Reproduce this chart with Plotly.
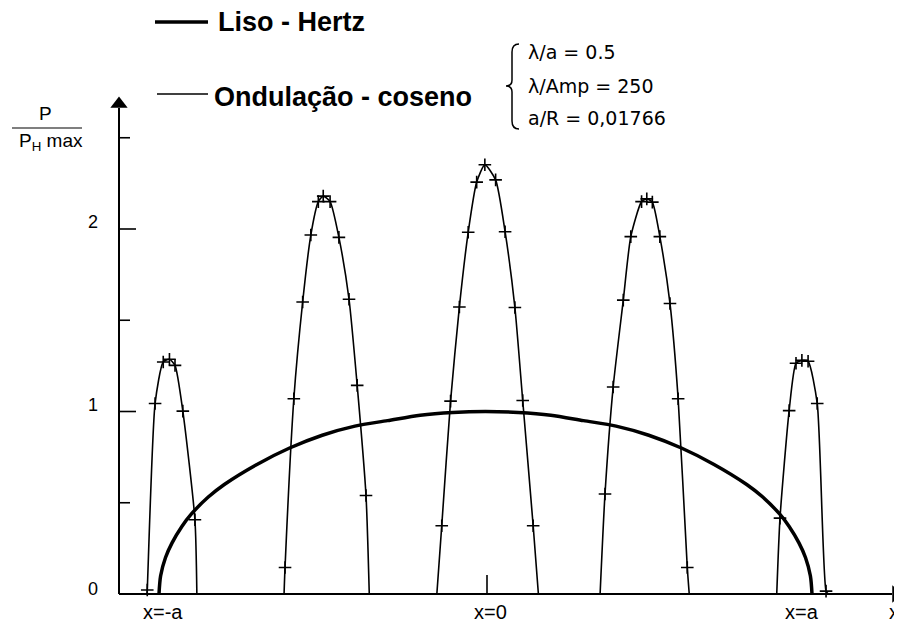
import plotly.graph_objects as go

# ---------------- data (x in units of a, y = P / P_H max) ----------------
hertz_x = [-1.0, -0.995, -0.98, -0.96, -0.93, -0.9, -0.85, -0.8, -0.7, -0.6, -0.5, -0.4, -0.3, -0.2, -0.1, 0.0,
           0.1, 0.2, 0.3, 0.4, 0.5, 0.6, 0.7, 0.8, 0.85, 0.9, 0.93, 0.96, 0.98, 0.995, 1.0]
hertz_y = [0.0, 0.10, 0.20, 0.28, 0.37, 0.44, 0.53, 0.60, 0.71, 0.80, 0.87, 0.92, 0.95, 0.98, 0.995, 1.0,
           0.995, 0.98, 0.95, 0.92, 0.87, 0.80, 0.71, 0.60, 0.53, 0.44, 0.37, 0.28, 0.20, 0.10, 0.0]

arch1_x = [-1.037, -1.036, -1.012, -0.987, -0.968, -0.951, -0.927, -0.890, -0.884]
arch1_y = [0.0, 0.022, 1.044, 1.271, 1.286, 1.253, 1.002, 0.407, 0.0]

arch2_x = [-0.617, -0.614, -0.587, -0.560, -0.535, -0.512, -0.497, -0.476, -0.449, -0.418, -0.393, -0.366, -0.356]
arch2_y = [0.0, 0.145, 1.070, 1.600, 1.967, 2.150, 2.180, 2.150, 1.954, 1.615, 1.143, 0.540, 0.0]

arch3_x = [-0.149, -0.134, -0.107, -0.080, -0.053, -0.027, -0.002, 0.031, 0.060, 0.090, 0.114, 0.146, 0.162]
arch3_y = [0.0, 0.374, 1.057, 1.573, 1.982, 2.257, 2.352, 2.269, 1.985, 1.570, 1.060, 0.374, 0.0]

arch4_x = [0.351, 0.366, 0.391, 0.422, 0.445, 0.478, 0.494, 0.511, 0.534, 0.565, 0.590, 0.618, 0.624]
arch4_y = [0.0, 0.548, 1.134, 1.610, 1.958, 2.150, 2.165, 2.147, 1.958, 1.592, 1.070, 0.145, 0.0]

arch5_x = [0.892, 0.902, 0.930, 0.951, 0.969, 0.988, 1.016, 1.043, 1.050]
arch5_y = [0.0, 0.416, 1.005, 1.264, 1.280, 1.275, 1.044, 0.016, 0.0]

y_tick_vals = [0.5, 1.0, 1.5, 2.0, 2.5]
y_tick_labels = {0: "0", 1: "1", 2: "2"}
x_tick_vals = [-1.0, 0.0, 1.0]
x_tick_text = ["x=-a", "x=0", "x=a"]

legend_hertz = "Liso - Hertz"
legend_cos = "Ondulação - coseno"
params = ["λ/a = 0.5", "λ/Amp = 250", "a/R = 0,01766"]

# ---------------- pixel <-> data helpers (layout only) ----------------
OFF = 8                      # default page margin of the html body
W, H = 902 - OFF, 623 - OFF  # figure size so that it fills the window
X0_PX, A_PX = 485.5, 326.5   # page pixel of x=0, pixels per a
Y0_PX, U_PX = 594.0, 182.5   # page pixel of y=0, pixels per unit


def px2x(px):
    return (px - X0_PX) / A_PX


def py2y(py):
    return (Y0_PX - py) / U_PX


AXIS_X = px2x(119)

fig = go.Figure()

# Hertz curve (thick)
fig.add_trace(go.Scatter(x=hertz_x, y=hertz_y, mode="lines",
                         line=dict(color="black", width=3.5, shape="spline", smoothing=0.8),
                         hoverinfo="skip", showlegend=False))

# Cosine-ripple arches (thin, with + markers)
for ax_, ay_ in [(arch1_x, arch1_y), (arch2_x, arch2_y), (arch3_x, arch3_y),
                 (arch4_x, arch4_y), (arch5_x, arch5_y)]:
    fig.add_trace(go.Scatter(x=ax_, y=ay_, mode="lines",
                             line=dict(color="black", width=1.6, shape="spline", smoothing=0.6),
                             hoverinfo="skip", showlegend=False))
    fig.add_trace(go.Scatter(x=ax_[1:-1], y=ay_[1:-1], mode="markers",
                             marker=dict(symbol="cross-thin", size=9, color="black",
                                         line=dict(color="black", width=1.6)),
                             hoverinfo="skip", showlegend=False))

# Axes (lines + arrow heads)
shapes = []
shapes.append(dict(type="line", xref="x", yref="y", x0=AXIS_X, x1=AXIS_X, y0=0, y1=py2y(108),
                   line=dict(color="black", width=2)))
shapes.append(dict(type="line", xref="x", yref="y", x0=AXIS_X, x1=px2x(892), y0=0, y1=0,
                   line=dict(color="black", width=2)))
fig.add_trace(go.Scatter(x=[AXIS_X], y=[py2y(104)], mode="markers",
                         marker=dict(symbol="triangle-up", size=15, color="black"),
                         hoverinfo="skip", showlegend=False))
fig.add_trace(go.Scatter(x=[px2x(896)], y=[0], mode="markers",
                         marker=dict(symbol="triangle-right", size=15, color="black"),
                         hoverinfo="skip", showlegend=False))

# y ticks (inside)
for v in y_tick_vals:
    length = 17 if float(v).is_integer() else 11
    shapes.append(dict(type="line", xref="x", yref="y", xsizemode="pixel", xanchor=AXIS_X,
                       x0=0, x1=length, y0=v, y1=v, line=dict(color="black", width=1.6)))
# x tick at x=0
shapes.append(dict(type="line", xref="x", yref="y", ysizemode="pixel", yanchor=0,
                   x0=px2x(487), x1=px2x(487), y0=0, y1=19, line=dict(color="black", width=1.6)))

# legend sample lines
shapes.append(dict(type="line", xref="x", yref="y", x0=px2x(155), x1=px2x(208),
                   y0=py2y(22), y1=py2y(22), line=dict(color="black", width=3.5)))
shapes.append(dict(type="line", xref="x", yref="y", x0=px2x(157), x1=px2x(208),
                   y0=py2y(94), y1=py2y(94), line=dict(color="black", width=1.6)))
# fraction bar of the y title
shapes.append(dict(type="line", xref="x", yref="y", x0=px2x(12), x1=px2x(82),
                   y0=py2y(128), y1=py2y(128), line=dict(color="black", width=1.2)))

# curly brace
bx, tx = 519, 512
path = ("M {} {} Q {} {} {} {} L {} {} Q {} {} {} {} Q {} {} {} {} L {} {} Q {} {} {} {}").format(
    px2x(bx), py2y(44),
    px2x(tx), py2y(44), px2x(tx), py2y(52),
    px2x(tx), py2y(80),
    px2x(tx), py2y(86), px2x(506), py2y(86),
    px2x(tx), py2y(86), px2x(tx), py2y(92),
    px2x(tx), py2y(121),
    px2x(tx), py2y(129), px2x(bx), py2y(129))
shapes.append(dict(type="path", xref="x", yref="y", path=path, line=dict(color="black", width=1.5)))

annotations = []
tick_font = dict(family="Liberation Sans, Arial, sans-serif", size=18, color="black")
label_font = dict(family="Liberation Sans, Arial, sans-serif", size=20, color="black")
title_font = dict(family="Liberation Sans, Arial, sans-serif", size=19, color="black")
bold_font = dict(family="Liberation Sans, Arial, sans-serif", size=27, color="black")
param_font = dict(family="DejaVu Sans, sans-serif", size=19, color="black")

for v, t in y_tick_labels.items():
    annotations.append(dict(x=px2x(93), y=v + 7 / U_PX if v > 0 else 5 / U_PX, text=t, showarrow=False,
                            xanchor="center", yanchor="middle", font=tick_font))
for v, t, nudge in zip(x_tick_vals, x_tick_text, [4, 5, -10]):
    annotations.append(dict(x=v + nudge / A_PX, y=py2y(612), text=t, showarrow=False,
                            xanchor="center", yanchor="middle", font=label_font))
annotations.append(dict(x=px2x(901), y=py2y(612), text="x", showarrow=False,
                        xanchor="right", yanchor="middle", font=label_font))

annotations.append(dict(x=px2x(45), y=py2y(113), text="P", showarrow=False,
                        xanchor="center", yanchor="middle", font=title_font))
annotations.append(dict(x=px2x(51), y=py2y(142), text="P<sub>H</sub> max", showarrow=False,
                        xanchor="center", yanchor="middle", font=title_font))

annotations.append(dict(x=px2x(216), y=py2y(22), text="<b>" + legend_hertz + "</b>", showarrow=False,
                        xanchor="left", yanchor="middle", font=bold_font))
annotations.append(dict(x=px2x(212), y=py2y(97), text="<b>" + legend_cos + "</b>", showarrow=False,
                        xanchor="left", yanchor="middle", font=bold_font))

for t, py in zip(params, [52, 86, 118]):
    annotations.append(dict(x=px2x(526), y=py2y(py), text=t, showarrow=False,
                            xanchor="left", yanchor="middle", font=param_font))

fig.update_layout(
    width=W, height=H, autosize=False,
    margin=dict(l=0, r=0, t=0, b=0, pad=0),
    paper_bgcolor="white", plot_bgcolor="white",
    xaxis=dict(range=[px2x(OFF), px2x(OFF + W)], visible=False, fixedrange=True),
    yaxis=dict(range=[py2y(OFF + H), py2y(OFF)], visible=False, fixedrange=True),
    shapes=shapes, annotations=annotations, showlegend=False,
)

fig.write_html("out.html")
